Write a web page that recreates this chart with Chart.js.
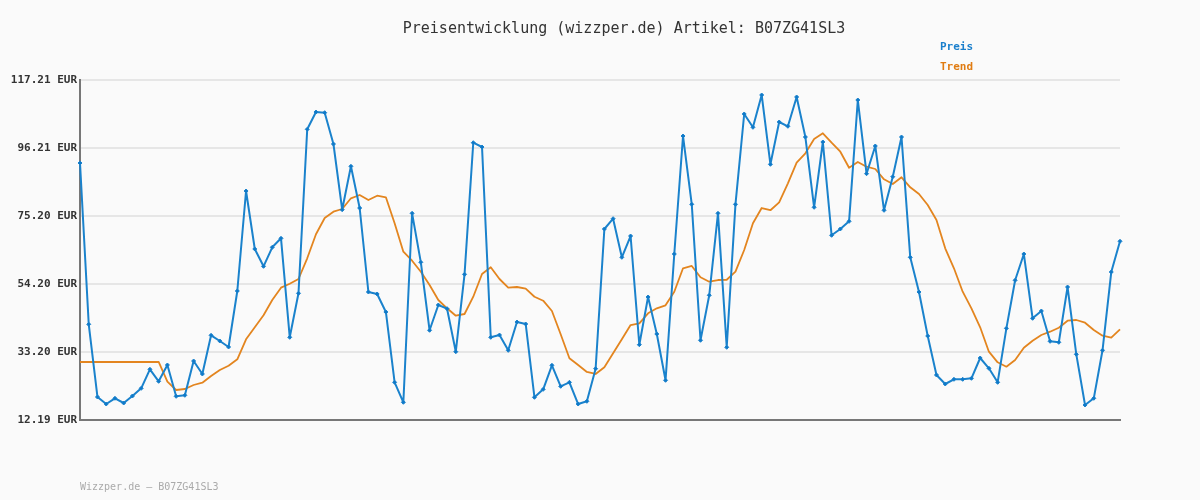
<!DOCTYPE html>
<html>
<head>
<meta charset="utf-8">
<script src="https://cdn.jsdelivr.net/npm/chart.js@4/dist/chart.umd.min.js"></script>
<style>
  body { margin: 0; background: #fafafa; }
  #wrap { position: relative; width: 1200px; height: 500px; font-family: 'DejaVu Sans Mono', monospace; }
  #title { position: absolute; left: 0; width: 1248px; top: 19px; text-align: center; font-size: 15px; line-height: 18px; color: #333; }
  .leg { position: absolute; left: 940px; font-size: 11px; font-weight: bold; line-height: 14px; }
  #footer { position: absolute; left: 80px; top: 480px; font-size: 10px; line-height: 14px; color: #aaa; }
</style>
</head>
<body>
<div id="wrap">
  <canvas id="priceChart"></canvas>
  <div id="title">Preisentwicklung (wizzper.de) Artikel: B07ZG41SL3</div>
  <div class="leg" style="top:40px;color:#1a7fcc">Preis</div>
  <div class="leg" style="top:60px;color:#e07c12">Trend</div>
  <div id="footer">Wizzper.de – B07ZG41SL3</div>
</div>
<script>
const price = [
  91.57, 41.75, 19.29, 17.13, 18.89, 17.44, 19.60, 21.98, 27.85, 24.14,
  29.18, 19.51, 19.82, 30.41, 26.40, 38.35, 36.59, 34.74, 52.04, 82.92,
  65.01, 59.66, 65.53, 68.31, 37.73, 51.32, 101.98, 107.32, 107.11, 97.44,
  77.15, 90.55, 77.67, 51.73, 51.11, 45.55, 23.83, 17.66, 76.03, 60.90,
  39.90, 47.71, 46.57, 33.29, 57.19, 97.84, 96.51, 37.73, 38.44, 33.72,
  42.46, 41.84, 19.20, 21.67, 29.09, 22.60, 23.83, 17.13, 17.97, 28.04,
  71.19, 74.37, 62.44, 69.02, 35.45, 50.18, 38.75, 24.45, 63.46, 99.91,
  78.81, 36.81, 50.71, 76.03, 34.65, 78.81, 106.71, 102.60, 112.58, 91.17,
  104.24, 102.91, 111.96, 99.60, 77.89, 98.06, 69.24, 71.19, 73.56, 111.03,
  88.27, 96.82, 76.96, 87.34, 99.60, 62.44, 51.73, 38.14, 26.09, 23.31,
  24.76, 24.76, 25.07, 31.34, 28.16, 23.83, 40.51, 55.34, 63.46, 43.60,
  45.86, 36.50, 36.19, 53.27, 32.48, 16.82, 18.89, 33.72, 57.90, 67.39,
];

const trend = [
  30.11, 30.11, 30.11, 30.11, 30.11, 30.11, 30.11, 30.11, 30.11, 30.11,
  24.02, 21.46, 21.77, 23.00, 23.71, 25.78, 27.63, 28.96, 30.94, 37.12,
  40.82, 44.53, 49.26, 53.06, 54.29, 55.74, 62.14, 69.55, 74.58, 76.53,
  77.36, 80.67, 81.69, 80.14, 81.47, 80.98, 72.95, 64.18, 61.39, 58.00,
  53.89, 49.26, 46.69, 44.41, 44.93, 50.27, 57.29, 59.36, 55.74, 53.06,
  53.27, 52.75, 50.27, 49.04, 45.86, 38.66, 31.25, 29.18, 27.02, 26.40,
  28.50, 32.79, 37.12, 41.53, 42.06, 45.15, 46.69, 47.62, 51.82, 59.05,
  59.76, 56.27, 54.91, 55.43, 55.50, 58.00, 64.70, 72.95, 77.67, 76.99,
  79.43, 85.30, 91.67, 94.57, 98.99, 100.75, 97.84, 95.06, 90.12, 91.88,
  90.43, 89.72, 86.54, 85.09, 87.16, 84.07, 82.00, 78.60, 73.97, 65.22,
  59.05, 51.82, 46.69, 40.82, 33.29, 30.01, 28.65, 30.72, 34.52, 36.68,
  38.44, 39.46, 40.70, 42.86, 43.08, 42.24, 39.99, 38.23, 37.61, 40.21,
];

const tickValues = [12.19, 33.20, 54.20, 75.20, 96.21, 117.21];
const tickLabels = ["12.19 EUR", "33.20 EUR", "54.20 EUR", "75.20 EUR", "96.21 EUR", "117.21 EUR"];

const labels = price.map((_, i) => String(i + 1));

Chart.defaults.font.family = "'DejaVu Sans Mono', monospace";

const ctx = document.getElementById("priceChart");

new Chart(ctx, {
  type: "line",
  data: {
    labels: labels,
    datasets: [
      {
        label: "Preis",
        data: price,
        borderColor: "#1a82cc",
        backgroundColor: "#0f78c8",
        borderWidth: 2,
        borderJoinStyle: "round",
        pointStyle: "rectRot",
        pointRadius: 2,
        pointBorderWidth: 1,
        tension: 0,
      },
      {
        label: "Trend",
        data: trend,
        borderColor: "#e3851f",
        borderWidth: 1.8,
        borderJoinStyle: "round",
        pointRadius: 0,
        tension: 0,
      },
    ],
  },
  options: {
    responsive: true,
    maintainAspectRatio: false,
    animation: false,
    layout: { padding: { left: 0, right: 80, top: 80, bottom: 80 } },
    plugins: {
      legend: { display: false },
      tooltip: { enabled: false },
    },
    scales: {
      x: {
        offset: false,
        grid: { display: false },
        ticks: { display: false },
        border: { color: "#777", width: 2 },
        afterFit: (scale) => { scale.height = 0; },
      },
      y: {
        min: 12.19,
        max: 117.21,
        afterBuildTicks: (scale) => {
          scale.ticks = tickValues.map((v) => ({ value: v }));
        },
        afterFit: (scale) => { scale.width = 80; },
        grid: { color: "#e6e6e6", lineWidth: 2, drawTicks: false },
        border: { color: "#777", width: 2 },
        ticks: {
          padding: 3,
          color: "#333",
          font: { size: 11, weight: "bold" },
          callback: (value) => tickLabels[tickValues.indexOf(value)],
        },
      },
    },
  },
});
</script>
</body>
</html>
